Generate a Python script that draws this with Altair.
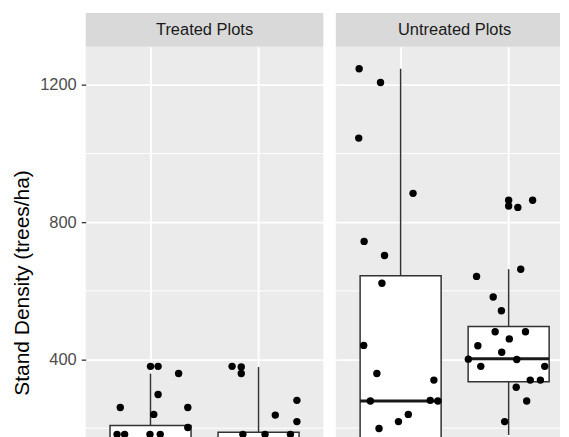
import altair as alt
import pandas as pd

# ---------------- data ----------------
panels = ["Treated Plots", "Untreated Plots"]
y_title = "Stand Density (trees/ha)"
y_ticks = [400, 800, 1200]
y_minor = [200, 600, 1000]
categories = [1, 2]

# jittered observations: values and horizontal jitter (in category units)
t1_vals = [380, 380, 359, 298, 260, 260, 240, 202, 182, 182, 182, 182]
t1_jit = [0.0, 0.07, 0.26, 0.07, -0.28, 0.345, 0.03, 0.345, -0.31, -0.24, -0.005, 0.09]
t2_vals = [380, 378, 359, 281, 238, 219, 182, 182, 182]
t2_jit = [-0.245, -0.16, -0.16, 0.355, 0.155, 0.355, -0.145, 0.06, 0.295]
u1_vals = [1247, 1207, 1045, 884, 744, 703, 622, 441, 359, 279, 281, 279, 340, 240, 219, 199]
u1_jit = [-0.384, -0.186, -0.388, 0.115, -0.338, -0.149, -0.173, -0.342, -0.22, -0.28,
          0.274, 0.345, 0.308, 0.071, -0.02, -0.2]
u2_vals = [864, 847, 843, 864, 663, 642, 582, 542, 481, 481, 460, 440, 421, 401, 400,
           380, 380, 340, 340, 319, 279, 219]
u2_jit = [0.0, 0.0, 0.085, 0.222, 0.112, -0.297, -0.143, -0.067, -0.125, 0.156, 0.006,
          -0.285, -0.064, -0.373, 0.075, -0.258, 0.334, 0.2, 0.294, 0.07, 0.167, -0.037]

# box statistics per panel, per category: lower whisker, Q1, median, Q3, upper whisker
t_lo = [0, 0]
t_q1 = [60, 40]
t_med = [120, 100]
t_q3 = [208, 188]
t_hi = [359, 378]
u_lo = [0, 180]
u_q1 = [120, 335]
u_med = [279, 402]
u_q3 = [644, 496]
u_hi = [1247, 663]

# ---------------- tables ----------------
rows = []
for panel, cat, vals, jit in [
    (panels[0], 1, t1_vals, t1_jit), (panels[0], 2, t2_vals, t2_jit),
    (panels[1], 1, u1_vals, u1_jit), (panels[1], 2, u2_vals, u2_jit),
]:
    for v, j in zip(vals, jit):
        rows.append({"panel": panel, "x": cat + j, "value": v})
points = pd.DataFrame(rows)

box_rows = []
for panel, lo, q1, med, q3, hi in [
    (panels[0], t_lo, t_q1, t_med, t_q3, t_hi),
    (panels[1], u_lo, u_q1, u_med, u_q3, u_hi),
]:
    for i, cat in enumerate(categories):
        box_rows.append({"panel": panel, "x": cat, "x_lo": cat - 0.375, "x_hi": cat + 0.375,
                         "lo": lo[i], "q1": q1[i], "med": med[i], "q3": q3[i], "hi": hi[i]})
boxes = pd.DataFrame(box_rows)

# ---------------- styling ----------------
FONT = "Liberation Sans"
W_FULL = 238.5                      # full width of a facet panel
UNIT = W_FULL / 2.2                 # pixels per category step
W_RIGHT = 225                       # right panel is cut by the page edge
H = 473
STRIP_H = 34
y_scale = alt.Scale(domain=[-62, 1311], nice=False, zero=False)


def x_scale(width):
    return alt.Scale(domain=[0.4, 0.4 + width / UNIT], nice=False, zero=False)


x_axis = alt.Axis(values=categories, grid=True, gridColor="white", gridWidth=1.9,
                  labels=False, ticks=False, domain=False, title=None)


def y_axis(show):
    if show:
        return alt.Axis(values=y_ticks, grid=True, gridColor="white", gridWidth=1.9,
                        domain=False, ticks=True, tickColor="#333333", tickWidth=1.3,
                        tickSize=4.5, labelPadding=5, labelFontSize=16.5, format="d",
                        labelColor="#4D4D4D", labelFont=FONT,
                        title=y_title, titleFontSize=21, titleFontWeight="normal",
                        titleColor="black", titleFont=FONT, titleX=-63,
                        titleBaseline="middle")
    return alt.Axis(values=y_ticks, grid=True, gridColor="white", gridWidth=1.9,
                    domain=False, ticks=False, labels=False, title=None)


def panel_chart(idx, width):
    name = panels[idx]
    pts = points[points.panel == name]
    bx = boxes[boxes.panel == name]
    yax = y_axis(idx == 0)
    xs = x_scale(width)

    minor = alt.Chart(pd.DataFrame({"value": y_minor})).mark_rule(
        color="white", strokeWidth=1.0
    ).encode(y=alt.Y("value:Q", scale=y_scale, axis=yax))

    whisk_hi = alt.Chart(bx).mark_rule(color="#333333", strokeWidth=1.5).encode(
        x=alt.X("x:Q", scale=xs, axis=x_axis),
        y=alt.Y("q3:Q", scale=y_scale, axis=yax), y2="hi:Q")
    whisk_lo = alt.Chart(bx).mark_rule(color="#333333", strokeWidth=1.5).encode(
        x=alt.X("x:Q", scale=xs, axis=x_axis),
        y=alt.Y("lo:Q", scale=y_scale, axis=yax), y2="q1:Q")
    box = alt.Chart(bx).mark_rect(fill="white", stroke="#333333", strokeWidth=1.5).encode(
        x=alt.X("x_lo:Q", scale=xs, axis=x_axis), x2="x_hi:Q",
        y=alt.Y("q1:Q", scale=y_scale, axis=yax), y2="q3:Q")
    median = alt.Chart(bx).mark_rule(color="#1A1A1A", strokeWidth=3).encode(
        x=alt.X("x_lo:Q", scale=xs, axis=x_axis), x2="x_hi:Q",
        y=alt.Y("med:Q", scale=y_scale, axis=yax))
    dots = alt.Chart(pts).mark_circle(color="black", opacity=1, size=55).encode(
        x=alt.X("x:Q", scale=xs, axis=x_axis),
        y=alt.Y("value:Q", scale=y_scale, axis=yax))

    strip_df = pd.DataFrame({"label": [name]})
    strip = alt.Chart(strip_df).mark_rect(fill="#D9D9D9").encode(
        x=alt.value(0), x2=alt.value(width), y=alt.value(-STRIP_H), y2=alt.value(0))
    strip_text = alt.Chart(strip_df).mark_text(
        fontSize=16.5, color="#1A1A1A", font=FONT, baseline="middle", align="center"
    ).encode(x=alt.value(W_FULL / 2), y=alt.value(-STRIP_H / 2), text="label:N")

    return alt.layer(minor, whisk_hi, whisk_lo, box, median, dots, strip, strip_text).properties(
        width=width, height=H)


chart = alt.hconcat(panel_chart(0, W_FULL), panel_chart(1, W_RIGHT), spacing=11).properties(
    padding={"left": 4, "top": 4, "right": 0, "bottom": 0}
).configure(font=FONT, background="white").configure_view(
    fill="#EBEBEB", strokeWidth=0
)

chart.save("out.html", embed_options={"renderer": "svg", "actions": False})
